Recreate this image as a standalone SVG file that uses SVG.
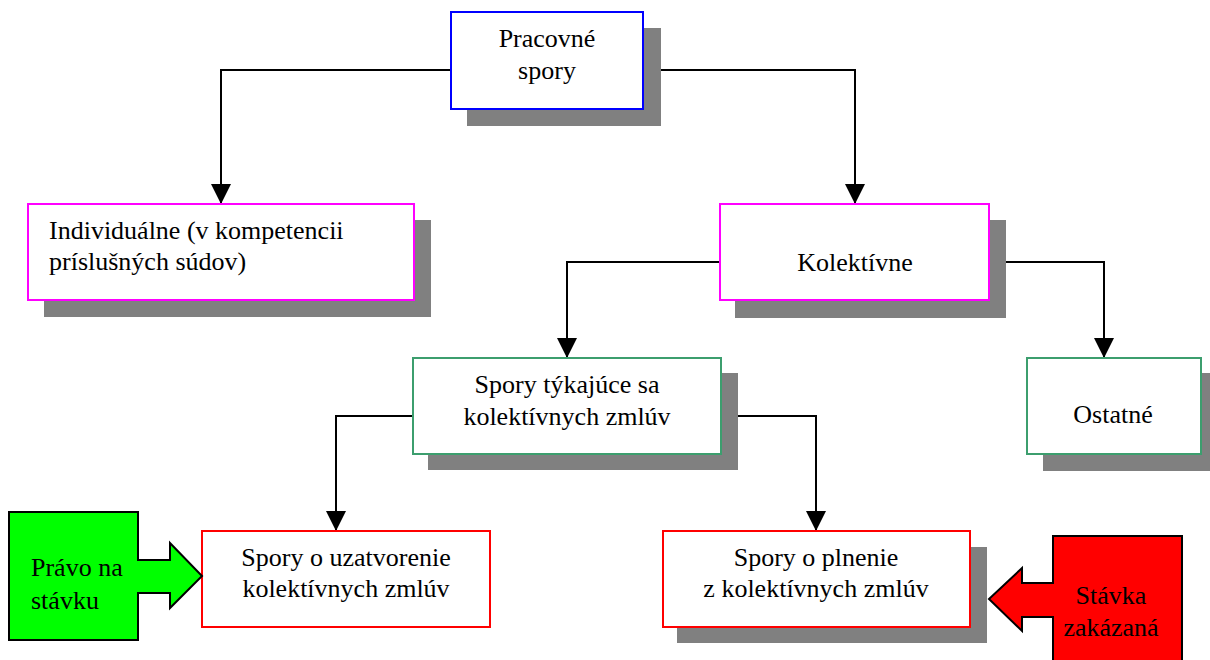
<svg xmlns="http://www.w3.org/2000/svg" width="1210" height="660" viewBox="0 0 1210 660">
  <style>
    .shadow { fill: #808080; stroke: none; }
    .box { fill: #ffffff; stroke-width: 2; }
    .blue { stroke: #0000ff; }
    .magenta { stroke: #ff00ff; }
    .green { stroke: #3c9e6e; }
    .red { stroke: #ff0000; }
    .label { font-family: "Liberation Serif", "Times New Roman", serif; font-size: 26px; fill: #000000; }
    .mid { text-anchor: middle; }
    .conn { fill: none; stroke: #000000; stroke-width: 2; }
    .bigarrow { stroke: #000000; stroke-width: 2; stroke-linejoin: miter; }
  </style>
  <defs>
    <marker id="head" viewBox="0 0 20 20" refX="20" refY="10" markerWidth="20" markerHeight="20" markerUnits="userSpaceOnUse" orient="auto">
      <path d="M0,0 L20,10 L0,20 Z" fill="#000000"/>
    </marker>
  </defs>

  <rect width="1210" height="660" fill="#ffffff"/>

  <!-- connectors -->
  <g id="connectors">
    <path class="conn" d="M451,70 H221 V204" marker-end="url(#head)"/>
    <path class="conn" d="M643,70 H855 V204" marker-end="url(#head)"/>
    <path class="conn" d="M720,262 H567 V358" marker-end="url(#head)"/>
    <path class="conn" d="M989,262 H1104 V358" marker-end="url(#head)"/>
    <path class="conn" d="M413,416 H336 V531" marker-end="url(#head)"/>
    <path class="conn" d="M721,416 H816 V531" marker-end="url(#head)"/>
  </g>

  <g id="pracovne-spory">
    <rect class="shadow" x="467" y="28" width="194" height="98"/>
    <rect class="box blue" x="451" y="12" width="192" height="97"/>
    <text class="label mid" x="547" y="47">Pracovné</text>
    <text class="label mid" x="547" y="79">spory</text>
  </g>

  <g id="individualne">
    <rect class="shadow" x="44" y="220" width="387" height="97"/>
    <rect class="box magenta" x="28" y="204" width="386" height="96"/>
    <text class="label" x="49" y="239" font-size="26.5">Individuálne (v kompetencii</text>
    <text class="label" x="49" y="270" font-size="26.5">príslušných súdov)</text>
  </g>

  <g id="kolektivne">
    <rect class="shadow" x="735" y="220" width="271" height="98"/>
    <rect class="box magenta" x="720" y="204" width="269" height="96"/>
    <text class="label mid" x="855" y="271">Kolektívne</text>
  </g>

  <g id="spory-tykajuce">
    <rect class="shadow" x="428" y="373" width="310" height="97"/>
    <rect class="box green" x="413" y="358" width="308" height="96"/>
    <text class="label mid" x="567" y="393">Spory týkajúce sa</text>
    <text class="label mid" x="567" y="425">kolektívnych zmlúv</text>
  </g>

  <g id="ostatne">
    <rect class="shadow" x="1043" y="373" width="170" height="98"/>
    <rect class="box green" x="1027" y="358" width="174" height="96"/>
    <text class="label mid" x="1113" y="423">Ostatné</text>
  </g>

  <g id="spory-uzatvorenie">
    <rect class="box red" x="202" y="531" width="288" height="96"/>
    <text class="label mid" x="346" y="566">Spory o uzatvorenie</text>
    <text class="label mid" x="346" y="597">kolektívnych zmlúv</text>
  </g>

  <g id="spory-plnenie">
    <rect class="shadow" x="677" y="547" width="310" height="96"/>
    <rect class="box red" x="663" y="531" width="307" height="96"/>
    <text class="label mid" x="816" y="566">Spory o plnenie</text>
    <text class="label mid" x="816" y="597">z kolektívnych zmlúv</text>
  </g>

  <g id="pravo-na-stavku">
    <polygon class="bigarrow" fill="#00ff00" points="9,512 138,512 138,560 170,560 170,543 202,576 170,608 170,593 138,593 138,640 9,640"/>
    <text class="label" x="31" y="576">Právo na</text>
    <text class="label" x="31" y="609">stávku</text>
  </g>

  <g id="stavka-zakazana">
    <polygon class="bigarrow" fill="#ff0000" points="1182,536 1053,536 1053,583 1022,583 1022,568 989,599 1022,631 1022,617 1053,617 1053,672 1182,672"/>
    <text class="label mid" x="1111" y="604">Stávka</text>
    <text class="label mid" x="1111" y="636">zakázaná</text>
  </g>
</svg>
